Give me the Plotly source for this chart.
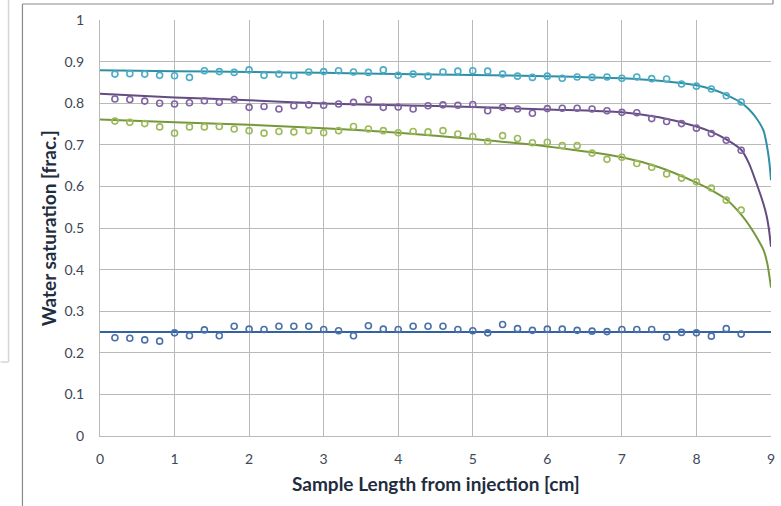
import plotly.graph_objects as go

# Measured water saturation along the core (sample positions in cm)
x_meas = [0.2, 0.4, 0.6, 0.8, 1.0, 1.2, 1.4, 1.6, 1.8, 2.0, 2.2, 2.4, 2.6, 2.8, 3.0,
          3.2, 3.4, 3.6, 3.8, 4.0, 4.2, 4.4, 4.6, 4.8, 5.0, 5.2, 5.4, 5.6, 5.8, 6.0,
          6.2, 6.4, 6.6, 6.8, 7.0, 7.2, 7.4, 7.6, 7.8, 8.0, 8.2, 8.4, 8.6]

sw_cyan = [0.870, 0.871, 0.870, 0.867, 0.866, 0.862, 0.878, 0.876, 0.874, 0.880,
           0.867, 0.870, 0.866, 0.875, 0.876, 0.878, 0.875, 0.874, 0.880, 0.867,
           0.870, 0.865, 0.875, 0.877, 0.878, 0.877, 0.870, 0.865, 0.862, 0.865,
           0.860, 0.863, 0.862, 0.863, 0.860, 0.863, 0.859, 0.858, 0.846, 0.841,
           0.834, 0.818, 0.803]

sw_purple = [0.810, 0.809, 0.805, 0.800, 0.798, 0.801, 0.806, 0.802, 0.809, 0.790,
             0.792, 0.786, 0.794, 0.796, 0.795, 0.798, 0.802, 0.809, 0.790, 0.791,
             0.786, 0.794, 0.796, 0.795, 0.797, 0.782, 0.790, 0.786, 0.776, 0.787,
             0.788, 0.788, 0.786, 0.782, 0.778, 0.777, 0.763, 0.756, 0.751, 0.740,
             0.727, 0.711, 0.687]

sw_green = [0.757, 0.754, 0.751, 0.743, 0.728, 0.743, 0.743, 0.744, 0.738, 0.734,
            0.728, 0.732, 0.731, 0.734, 0.729, 0.734, 0.744, 0.738, 0.734, 0.729,
            0.732, 0.731, 0.734, 0.726, 0.720, 0.708, 0.722, 0.715, 0.705, 0.706,
            0.698, 0.698, 0.680, 0.665, 0.670, 0.655, 0.646, 0.630, 0.620, 0.611,
            0.596, 0.567, 0.543]

sw_blue = [0.236, 0.235, 0.231, 0.228, 0.248, 0.241, 0.255, 0.241, 0.264, 0.257,
           0.256, 0.264, 0.264, 0.264, 0.256, 0.253, 0.241, 0.265, 0.257, 0.256,
           0.264, 0.264, 0.264, 0.256, 0.253, 0.248, 0.268, 0.258, 0.254, 0.257,
           0.257, 0.254, 0.252, 0.251, 0.256, 0.256, 0.256, 0.238, 0.249, 0.248,
           0.240, 0.258, 0.245]

# Model saturation profiles
x_cyan_fit = [0, 1, 2, 3, 4, 5, 6, 7, 7.5, 8, 8.2, 8.4, 8.6, 8.7, 8.8, 8.9, 8.93, 8.96, 8.98, 9.0]
y_cyan_fit = [0.879, 0.877, 0.875, 0.873, 0.870, 0.868, 0.865, 0.860, 0.854, 0.843,
              0.834, 0.820, 0.801, 0.786, 0.765, 0.734, 0.712, 0.682, 0.655, 0.615]

x_purple_fit = [0, 1, 2, 3, 4, 5, 6, 7, 7.5, 8, 8.2, 8.4, 8.6, 8.7, 8.8, 8.9, 8.94, 8.97, 9.0]
y_purple_fit = [0.823, 0.814, 0.807, 0.799, 0.795, 0.791, 0.785, 0.778, 0.766, 0.744,
                0.731, 0.713, 0.688, 0.657, 0.610, 0.557, 0.530, 0.500, 0.455]

x_green_fit = [0, 1, 2, 3, 4, 5, 6, 7, 7.5, 8, 8.2, 8.4, 8.6, 8.72, 8.8, 8.9, 8.95, 9.0]
y_green_fit = [0.761, 0.754, 0.748, 0.740, 0.729, 0.714, 0.696, 0.670, 0.646, 0.609,
               0.591, 0.569, 0.532, 0.503, 0.480, 0.447, 0.415, 0.357]

x_blue_fit = [0, 9]
y_blue_fit = [0.25, 0.25]

x_ticks = [0, 1, 2, 3, 4, 5, 6, 7, 8, 9]
y_ticks = [0, 0.1, 0.2, 0.3, 0.4, 0.5, 0.6, 0.7, 0.8, 0.9, 1]

series = [
    (sw_blue, x_blue_fit, y_blue_fit, "#4a70aa", "#3462a0"),
    (sw_green, x_green_fit, y_green_fit, "#9bbb59", "#77973d"),
    (sw_purple, x_purple_fit, y_purple_fit, "#8064a2", "#624c80"),
    (sw_cyan, x_cyan_fit, y_cyan_fit, "#4bacc6", "#2f8fa5"),
]

fig = go.Figure()
for sw, xf, yf, mcol, lcol in series:
    fig.add_trace(go.Scatter(
        x=xf, y=yf, mode="lines",
        line=dict(color=lcol, width=2, shape="spline", smoothing=0.8),
        showlegend=False, hoverinfo="skip"))
    fig.add_trace(go.Scatter(
        x=x_meas, y=sw, mode="markers",
        marker=dict(symbol="circle-open", size=6, color=mcol, line=dict(width=1.6, color=mcol)),
        showlegend=False))

W, H = 781, 506
L, R, T, B = 100, 6, 20, 70
pw, ph = W - L - R, H - T - B


def px(x):
    return (x - L) / pw


def py(y):
    return (H - B - y) / ph


frame = "#8a8a8a"
light = "#d6d6d6"
shapes = [
    dict(type="line", xref="paper", yref="paper", x0=px(22), x1=px(777), y0=py(4), y1=py(4),
         line=dict(color=frame, width=1.2)),
    dict(type="line", xref="paper", yref="paper", x0=px(22), x1=px(22), y0=py(4), y1=py(506),
         line=dict(color=frame, width=1.2)),
    dict(type="line", xref="paper", yref="paper", x0=px(777), x1=px(777), y0=py(0), y1=py(4),
         line=dict(color=frame, width=1.2)),
    dict(type="line", xref="paper", yref="paper", x0=px(8), x1=px(8), y0=py(0), y1=py(362),
         line=dict(color=light, width=1.5)),
    dict(type="line", xref="paper", yref="paper", x0=px(0), x1=px(8), y0=py(362), y1=py(362),
         line=dict(color=light, width=1.5)),
]

tick_font = dict(family="Lato, 'Open Sans', sans-serif", size=14, color="#3d4757")
title_font = dict(family="Lato, 'Open Sans', sans-serif", size=19, color="#1f2d40")
grid = "#b9b9b9"

fig.update_layout(
    width=W, height=H,
    margin=dict(l=L, r=R, t=T, b=B),
    paper_bgcolor="white", plot_bgcolor="white",
    shapes=shapes,
    xaxis=dict(range=[0, 9], tickvals=x_ticks, ticktext=[str(v) for v in x_ticks],
               showgrid=True, gridcolor=grid, gridwidth=1.3, zeroline=False,
               showline=True, linecolor=grid, linewidth=1.3, mirror=False,
               ticks="", ticklabelstandoff=10, tickfont=tick_font, fixedrange=True),
    yaxis=dict(range=[0, 1], tickvals=y_ticks, ticktext=[f"{v:g}" for v in y_ticks],
               showgrid=True, gridcolor=grid, gridwidth=1.3, zeroline=False,
               showline=True, linecolor=grid, linewidth=1.3,
               ticks="", ticklabelstandoff=12, tickfont=tick_font, fixedrange=True),
    annotations=[
        dict(text="<b>Sample Length from injection [cm]</b>", xref="paper", yref="paper",
             x=0.5, y=py(483), xanchor="center", yanchor="middle", showarrow=False,
             font=title_font),
        dict(text="<b>Water saturation [frac.]</b>", xref="paper", yref="paper",
             x=px(48), y=0.5, xanchor="center", yanchor="middle", textangle=-90,
             showarrow=False, font=title_font),
    ],
)

fig.write_html("out.html")
